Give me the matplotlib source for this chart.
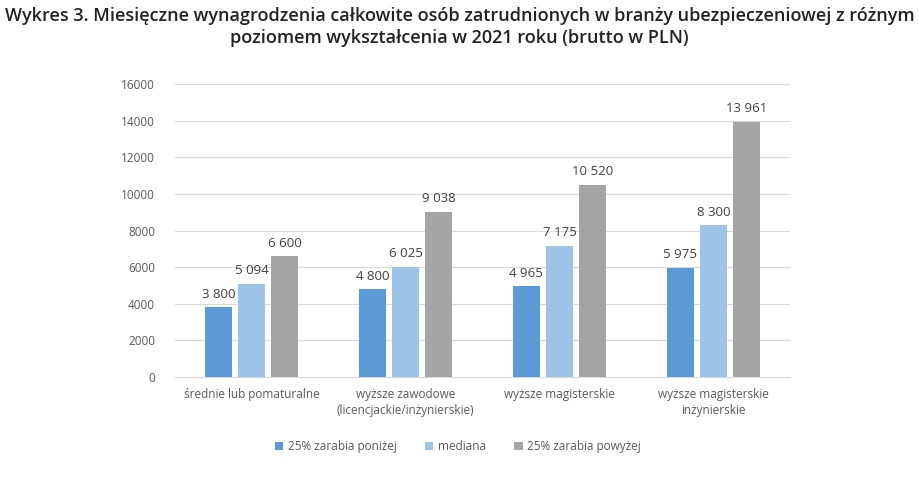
import matplotlib
matplotlib.use("Agg")
import matplotlib.pyplot as plt
import numpy as np

categories = ["średnie lub pomaturalne", "wyższe zawodowe\n(licencjackie/inżynierskie)",
              "wyższe magisterskie", "wyższe magisterskie\ninżynierskie"]
series_names = ["25% zarabia poniżej", "mediana", "25% zarabia powyżej"]
low = [3800, 4800, 4965, 5975]
median = [5094, 6025, 7175, 8300]
high = [6600, 9038, 10520, 13961]
colors = ["#5B9BD5", "#9DC3E6", "#A5A5A5"]

plt.rcParams['font.family'] = ['Open Sans', 'DejaVu Sans']

fig = plt.figure(figsize=(9.19, 4.84), dpi=100)
ax = fig.add_axes([0.190, 0.221, 0.670, 0.605])

x = np.arange(len(categories))
w = 0.176
step = 0.216
for i, (vals, name, c) in enumerate(zip([low, median, high], series_names, colors)):
    pos = x + (i - 1) * step
    bars = ax.bar(pos, vals, width=w, color=c, label=name, zorder=3)
    for b, v in zip(bars, vals):
        ax.text(b.get_x() + b.get_width() / 2, v + 350, f"{v:,}".replace(",", " "),
                ha="center", va="bottom", fontsize=9.5, color="#404040")

ax.set_xlim(-0.5, len(categories) - 0.5)
ax.set_ylim(0, 16000)
ax.set_yticks(range(0, 16001, 2000))
ax.set_xticks(x)
ax.set_xticklabels(categories, fontsize=8.5, color="#595959", linespacing=1.3)
ax.tick_params(axis="y", labelsize=8.5, labelcolor="#595959", length=0, pad=14)
ax.tick_params(axis="x", length=0, pad=8)
ax.grid(axis="y", color="#D9D9D9", linewidth=0.8, zorder=0)
for s in ["top", "right", "left"]:
    ax.spines[s].set_visible(False)
ax.spines["bottom"].set_color("#D9D9D9")

ax.legend(loc="upper center", bbox_to_anchor=(0.46, -0.18), ncol=3, frameon=False,
          fontsize=8.5, handlelength=0.7, handleheight=0.7, columnspacing=2.4,
          handletextpad=0.4, labelcolor="#595959")

fig.text(0.5, 0.985, "Wykres 3. Miesięczne wynagrodzenia całkowite osób zatrudnionych w branży ubezpieczeniowej z różnym\npoziomem wykształcenia w 2021 roku (brutto w PLN)",
         ha="center", va="top", fontsize=13, fontweight="semibold", color="#222222", linespacing=1.3)

fig.savefig("out.png", dpi=100)
